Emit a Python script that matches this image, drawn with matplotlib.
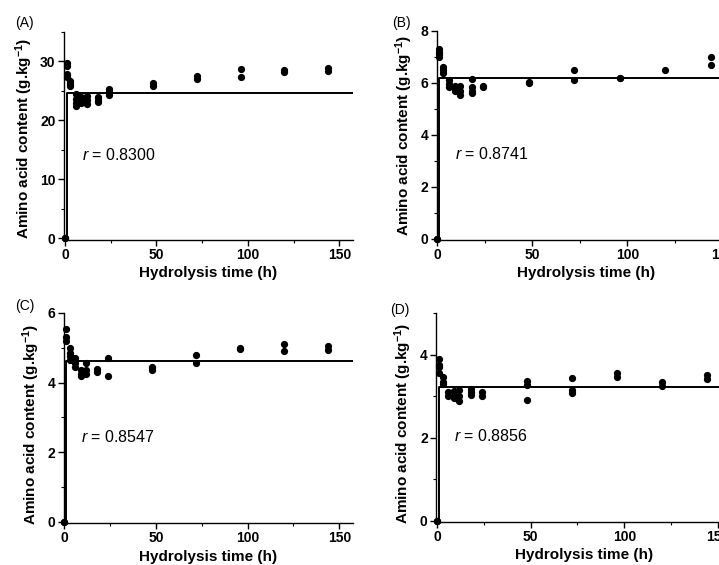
import numpy as np
import matplotlib.pyplot as plt
from matplotlib.ticker import MultipleLocator

plt.rcParams['font.family'] = ['Liberation Sans', 'DejaVu Sans']
plt.rcParams['mathtext.fontset'] = 'custom'
plt.rcParams['mathtext.rm'] = 'Liberation Sans'
plt.rcParams['mathtext.it'] = 'Liberation Sans:italic'
plt.rcParams['mathtext.bf'] = 'Liberation Sans:bold'

W, H = 719, 565

# hydrolysis times (h) and replicate amino acid contents (g/kg) per panel
times_a = [0, 0, 1, 1, 1, 1, 3, 3, 3, 6, 6, 6, 6, 9, 9, 9, 12, 12, 12, 18, 18, 18,
           24, 24, 24, 48, 48, 72, 72, 96, 96, 120, 120, 144, 144]
content_a = [0, 0, 29.8, 29.3, 27.9, 27.4, 26.6, 26.2, 25.8, 24.4, 23.6, 22.9, 22.4,
             23.9, 23.4, 23.0, 24.2, 23.5, 22.8, 23.9, 23.4, 23.1,
             25.3, 24.8, 24.3, 26.4, 25.8, 27.5, 27.1, 28.7, 27.4, 28.5, 28.2, 28.9, 28.3]

times_b = [0, 0, 1, 1, 1, 1, 3, 3, 3, 6, 6, 6, 9, 9, 9, 12, 12, 12, 18, 18, 18, 18,
           24, 24, 48, 48, 72, 72, 96, 96, 120, 144, 144]
content_b = [0, 0, 7.3, 7.2, 7.1, 7.0, 6.6, 6.5, 6.4, 6.1, 5.95, 5.85, 5.9, 5.8, 5.7,
             5.9, 5.7, 5.55, 6.15, 5.85, 5.7, 5.6, 5.9, 5.85, 6.05, 5.98,
             6.5, 6.1, 6.2, 6.2, 6.5, 7.0, 6.7]

times_c = [0, 0, 1, 1, 1, 3, 3, 3, 3, 6, 6, 6, 9, 9, 9, 12, 12, 12, 18, 18,
           24, 24, 48, 48, 72, 72, 96, 96, 120, 120, 144, 144]
content_c = [0, 0, 5.55, 5.3, 5.2, 5.0, 4.85, 4.75, 4.65, 4.7, 4.55, 4.45,
             4.35, 4.25, 4.2, 4.55, 4.35, 4.25, 4.4, 4.3, 4.7, 4.2, 4.45, 4.35,
             4.8, 4.57, 4.98, 4.96, 5.1, 4.9, 5.05, 4.95]

times_d = [0, 0, 1, 1, 1, 1, 3, 3, 3, 6, 6, 9, 9, 9, 12, 12, 12, 18, 18, 18,
           24, 24, 48, 48, 48, 72, 72, 72, 96, 96, 120, 120, 144, 144]
content_d = [0, 0, 3.9, 3.76, 3.7, 3.55, 3.45, 3.35, 3.28, 3.1, 3.0, 3.12, 3.0, 2.95,
             3.15, 3.0, 2.88, 3.18, 3.1, 3.02, 3.1, 3.0, 3.36, 3.27, 2.9,
             3.44, 3.15, 3.07, 3.55, 3.45, 3.35, 3.24, 3.5, 3.42]

# fitted plateau of each model, its onset time and correlation
plateaus = [24.7, 6.2, 4.63, 3.22]
onset = 1.0
r_values = ['0.8300', '0.8741', '0.8547', '0.8856']
panel_tags = ['(A)', '(B)', '(C)', '(D)']

ylims = [(-0.3, 35), (-0.05, 8), (-0.04, 6), (-0.03, 5)]
ymajor = [10, 2, 2, 2]
yminor = [5, 1, 1, 1]

# axes boxes in pixels: left, top, width, height
boxes = [(64, 32, 289, 208), (436.5, 31, 300, 209),
         (63.5, 313, 289.5, 210), (436, 313, 296, 209)]
tag_pos = [(15, 23), (392, 23), (15, 306), (390, 310)]
ylabel_y = [0.49, 0.50, 0.47, 0.47]

fig = plt.figure(figsize=(W / 100, H / 100), dpi=100)

panels = [(times_a, content_a), (times_b, content_b),
          (times_c, content_c), (times_d, content_d)]

for i, (t, c) in enumerate(panels):
    left, top, w, h = boxes[i]
    ax = fig.add_axes([left / W, 1 - (top + h) / H, w / W, h / H])

    ax.plot(t, c, 'o', color='black', markersize=4.2, clip_on=False, zorder=3)
    ax.plot([onset, onset, 160], [0, plateaus[i], plateaus[i]],
            color='black', linewidth=1.4)

    ax.set_xlim(-0.5, 157.5)
    ax.set_ylim(*ylims[i])
    ax.xaxis.set_major_locator(MultipleLocator(50))
    ax.xaxis.set_minor_locator(MultipleLocator(25))
    ax.yaxis.set_major_locator(MultipleLocator(ymajor[i]))
    ax.yaxis.set_minor_locator(MultipleLocator(yminor[i]))

    for side in ['top', 'right']:
        ax.spines[side].set_visible(False)
    for side in ['left', 'bottom']:
        ax.spines[side].set_linewidth(1.0)

    ax.tick_params(which='major', direction='out', length=4, width=1,
                   labelsize=10, pad=2)
    ax.tick_params(which='minor', direction='out', length=2, width=0.8)
    for lab in ax.get_xticklabels() + ax.get_yticklabels():
        lab.set_fontweight('bold')

    ax.set_xlabel('Hydrolysis time (h)', fontsize=11, fontweight='bold', labelpad=3)
    ax.set_ylabel(r'Amino acid content (g.kg$^{\mathbf{-1}}$)', fontsize=11,
                  fontweight='bold', labelpad=4)
    ax.yaxis.label.set_y(ylabel_y[i])

    ax.text(0.062, 0.41, r'$\it{r}$ = ' + r_values[i], transform=ax.transAxes,
            fontsize=11.5, va='center', ha='left')

    tx, ty = tag_pos[i]
    fig.text(tx / W, 1 - ty / H, panel_tags[i], fontsize=10, va='center', ha='left')

fig.savefig('out.png', dpi=100)
